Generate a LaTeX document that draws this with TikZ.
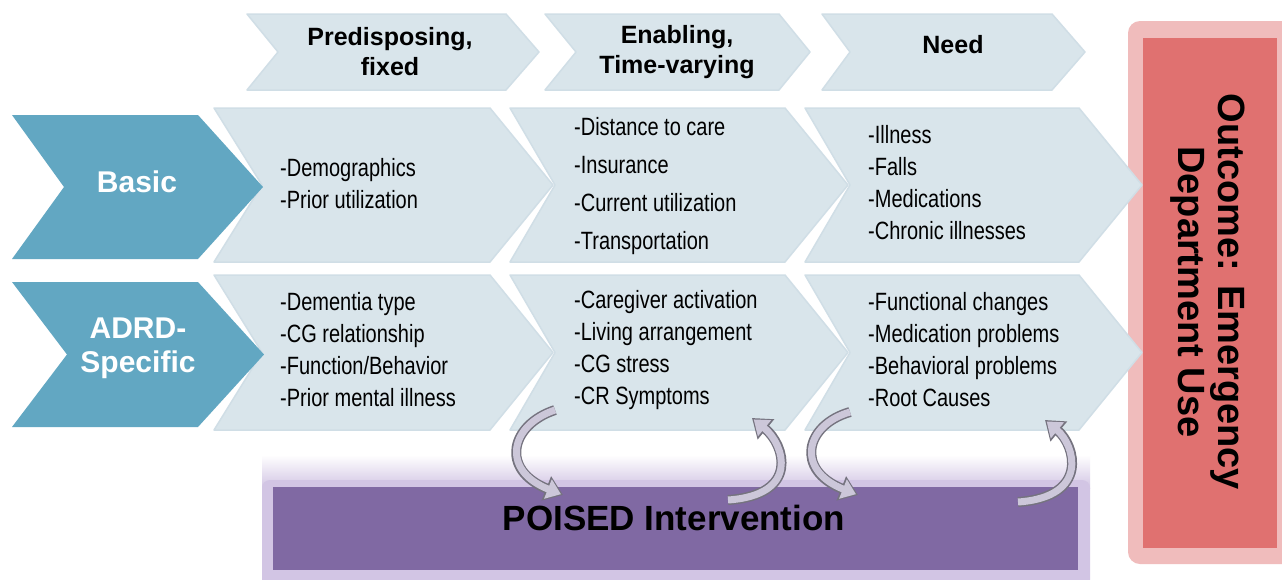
\documentclass[tikz,border=0pt]{standalone}
\usepackage{fontspec}
\setmainfont{Liberation Sans}
\newfontfamily\narrowfont[FakeStretch=0.8]{Liberation Sans}
\usetikzlibrary{arrows.meta}
\definecolor{chev}{HTML}{D9E5EB}
\definecolor{chevedge}{HTML}{D0DEE6}
\definecolor{bluechev}{HTML}{62A7C2}
\definecolor{redbox}{HTML}{E07170}
\definecolor{redglow}{HTML}{F0BCBC}
\definecolor{purplebox}{HTML}{8069A3}
\definecolor{purpleglow}{HTML}{D2C5E4}
\definecolor{arrowfill}{HTML}{CCC7D9}
\definecolor{arrowedge}{HTML}{75737F}
\newcommand\mychev[7]{\path[#1] (#2,#6) -- (#3,#6) -- ({#3+#5},{(#6+#7)/2}) -- (#3,#7) -- (#2,#7) -- ({#2+#4},{(#6+#7)/2}) -- cycle;}
\begin{document}
\begin{tikzpicture}[x=1pt,y=-1pt,
  lightchev/.style={fill=chev, draw=chevedge, line width=1.5pt, line join=round},
  bluestyle/.style={fill=bluechev},
  headtext/.style={font=\bfseries\fontsize{25}{30}\selectfont, align=center, inner sep=0pt},
  itemtext/.style={font=\narrowfont\fontsize{25}{32}\selectfont, align=left, anchor=west, inner sep=0pt},
  itemwide/.style={font=\narrowfont\fontsize{25}{37.7}\selectfont, align=left, anchor=west, inner sep=0pt},
  bluetext/.style={font=\bfseries\fontsize{30}{34}\selectfont, text=white, align=center, inner sep=0pt},
  arrowback/.style={line width=10pt, draw=arrowedge, -{Triangle[length=18pt,width=25pt]}},
  arrowfront/.style={line width=7pt, draw=arrowfill, shorten >=2.2pt, -{Triangle[length=14pt,width=20pt]}}
]
\useasboundingbox (0,0) rectangle (1282,579);
\fill[white] (0,0) rectangle (1282,579);

% outcome glow and POISED glow
\fill[redglow, rounded corners=12pt] (1128,21) rectangle (1295,564);
\shade[top color=white, bottom color=purpleglow] (262,455) rectangle (1090,488);
\fill[purpleglow, rounded corners=8pt] (262,480) rectangle (1090,590);

% header chevrons
\mychev{lightchev}{247}{506}{31}{33}{14}{90}
\mychev{lightchev}{545}{779}{31}{31}{14}{90}
\mychev{lightchev}{822}{1052}{28}{33}{14}{90}

% row chevrons
\mychev{lightchev}{214}{490}{48}{63}{108}{262}
\mychev{lightchev}{510}{785}{45}{63}{108}{262}
\mychev{lightchev}{805}{1079}{45}{63}{108}{262}
\mychev{lightchev}{214}{490}{48}{63}{275}{430}
\mychev{lightchev}{510}{785}{45}{63}{275}{430}
\mychev{lightchev}{805}{1079}{45}{63}{275}{430}

% blue chevrons
\mychev{bluestyle}{12}{198}{52}{65}{115}{259}
\mychev{bluestyle}{12}{198}{55}{66}{282}{427}

% outcome box
\fill[redbox] (1143,38) rectangle (1277,548);
\node[rotate=-90, font=\bfseries\fontsize{38}{40}\selectfont, align=center, inner sep=0pt] (outcome) at (1208,292) {Outcome: Emergency\\Department Use};

% POISED box
\fill[purplebox] (273,487) rectangle (1078,570);
\node[font=\bfseries\fontsize{35}{38}\selectfont, inner sep=0pt] (poised) at (674,518) {POISED Intervention};

% header texts
\node[headtext] (h1) at (390,52) {Predisposing,\\fixed};
\node[headtext] (h2) at (677,52) {Enabling,\\Time-varying};
\node[headtext] (h3) at (953,45) {Need};

% blue texts
\node[bluetext] (basic) at (137,182) {Basic};
\node[bluetext] (adrd) at (138,348) {ADRD-\\Specific};

% row 1 items
\node[itemtext] (r1c1) at (280,184) {-Demographics\\-Prior utilization};
\node[itemwide] (r1c2) at (574,186) {-Distance to care\\-Insurance\\-Current utilization\\-Transportation};
\node[itemtext] (r1c3) at (868,183) {-Illness\\-Falls\\-Medications\\-Chronic illnesses};

% row 2 items
\node[itemtext] (r2c1) at (280,350) {-Dementia type\\-CG relationship\\-Function/Behavior\\-Prior mental illness};
\node[itemtext] (r2c2) at (574,350) {-Caregiver activation\\-Living arrangement\\-CG stress\\-CR Symptoms};
\node[itemtext] (r2c3) at (868,350) {-Functional changes\\-Medication problems\\-Behavioral problems\\-Root Causes};

% curved arrows
\coordinate (a1s) at (555,410); \coordinate (a1e) at (563,495);
\coordinate (a2s) at (728,500); \coordinate (a2e) at (752,418);
\coordinate (a3s) at (850,412); \coordinate (a3e) at (858,495);
\coordinate (a4s) at (1018,502); \coordinate (a4e) at (1045,420);
\foreach \s in {arrowback,arrowfront}{
  \draw[\s] (a1s) .. controls (510,425) and (500,470) .. (a1e);
  \draw[\s] (a2s) .. controls (800,495) and (785,445) .. (a2e);
  \draw[\s] (a3s) .. controls (805,425) and (795,470) .. (a3e);
  \draw[\s] (a4s) .. controls (1090,497) and (1075,445) .. (a4e);
}
\end{tikzpicture}
\end{document}
